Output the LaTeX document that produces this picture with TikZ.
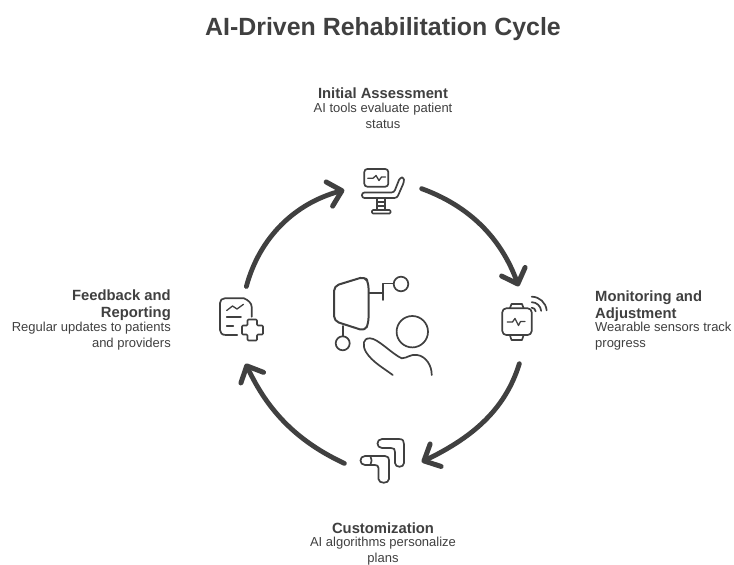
\documentclass[tikz,border=0pt]{standalone}
\usepackage{fontspec}
\setmainfont{Liberation Sans}
\usetikzlibrary{arrows.meta}
\definecolor{ink}{HTML}{404040}
\tikzset{
  hub/.style={circle,minimum size=77pt,inner sep=0pt,draw=none},
  cycle/.style={draw=ink,line width=4.8pt,line cap=round,looseness=0.95,-{Straight Barb[length=13pt,width=25pt,line width=5pt,round]}},
  icon/.style={draw=ink,line width=1.7pt,line cap=round,line join=round},
  headtext/.style={font=\fontsize{14.8}{17}\selectfont\bfseries,text=ink,inner sep=0pt},
  desctext/.style={font=\fontsize{13}{16}\selectfont,text=ink,inner sep=0pt},
}
\begin{document}
\begin{tikzpicture}[x=1pt,y=-1pt]
\useasboundingbox (0,0) rectangle (734,565);
\fill[white] (0,0) rectangle (734,565);
\node[font=\fontsize{24.9}{28}\selectfont\bfseries,text=ink,inner sep=0pt] (title) at (383,29.5) {AI-Driven Rehabilitation Cycle};

\node[hub] (init) at (383,188) {};
\node[hub] (mon) at (520,325) {};
\node[hub] (cust) at (383,462) {};
\node[hub] (feed) at (243,325) {};

\draw[cycle] (feed.85) to[out=75,in=195] (init.183);
\draw[cycle] (init.-1) to[out=-20,in=110] (mon.92);
\draw[cycle] (mon.-91) to[out=-107,in=26] (cust.0);
\draw[cycle] (cust.182) to[out=155,in=-65] (feed.-86);

% chair icon
\draw[icon,rounded corners=3pt] (364.3,169) rectangle (388.3,186.7);
\draw[icon,line width=1.3pt] (367.7,178.3) -- (373,178.3) -- (376,175.5) -- (379,180.5) -- (381.5,177) -- (385.5,177);
\draw[icon,rounded corners=2.5pt] (362,192.5) -- (394,192.5) -- (400,177.5) -- (404,177.5) -- (404,182) -- (397,198) -- (362,198) -- cycle;
\draw[icon] (377,198) -- (377,210) (385,198) -- (385,210);
\draw[icon,line width=1.2pt] (377,202) -- (385,202) (377,206) -- (385,206);
\draw[icon,rounded corners=1pt] (372,210) rectangle (390.5,213.5);

% centre icon
\draw[icon,line width=2pt,rounded corners=5pt] (334,286) -- (365,276.5) -- (368.5,283) -- (368.5,323) -- (365,331) -- (334,321) -- cycle;
\draw[icon] (369.3,292.7) -- (383.3,292.7) (383.3,300) -- (383.3,283.5) -- (393.5,283.5);
\draw[icon] (401,284) circle[radius=7.3pt];
\draw[icon] (342.7,326) -- (342.7,336.3);
\draw[icon] (342.7,343.3) circle[radius=7pt];
\draw[icon] (412.3,331.7) circle[radius=15.7pt];
\draw[icon] (392.7,375) .. controls (385,369) and (372,362) .. (366,352)
  .. controls (362,345) and (363,338) .. (370,338.3)
  .. controls (378,338.5) and (392,354) .. (401.7,358.3)
  .. controls (408,358) and (410,354) .. (417,355)
  .. controls (426,356) and (432,366) .. (431.7,375);

% watch icon
\draw[icon,rounded corners=4pt] (502.3,308.3) rectangle (531.7,335);
\draw[icon] (510,308) -- (511.5,304) -- (522,304) -- (523.5,308);
\draw[icon] (510,335.5) -- (511.5,340) -- (522,340) -- (523.5,335.5);
\draw[icon,line width=1.3pt] (507.3,322) -- (512.5,322) -- (515,318.5) -- (518.5,325.5) -- (520.5,321.5) -- (525,321.5);
\draw[icon] (531.7,307.7) arc[start angle=90,end angle=5,radius=4pt];
\draw[icon] (531.7,302.2) arc[start angle=90,end angle=5,radius=9.5pt];
\draw[icon] (531.7,296.7) arc[start angle=90,end angle=5,radius=15pt];

% customization icon
\draw[icon] (382,439) -- (399,439) .. controls (403,439) and (404,441) .. (404,444) -- (404,463)
  .. controls (404,468) and (395,468) .. (395,463) -- (395,452)
  .. controls (395,449) and (394,448) .. (391,448) -- (382,448)
  .. controls (376,448) and (376,439) .. (382,439) -- cycle;
\draw[icon] (365,456) -- (385,456) .. controls (388,456) and (389,458) .. (389,460) -- (389,479)
  .. controls (389,484) and (378.5,484) .. (378.5,479) -- (378.5,468)
  .. controls (378.5,466) and (377,465) .. (375,465) -- (365,465)
  .. controls (359,465) and (359,456) .. (365,456) -- cycle;
\draw[icon] (370.5,456.5) .. controls (372,459) and (372,462) .. (370.5,464.5);

% report icon
\draw[icon] (237.3,335) -- (226,335) .. controls (222,335) and (220,333) .. (220,330) -- (220,303)
  .. controls (220,300) and (222,298.3) .. (225,298.3) -- (244,298.3)
  .. controls (248,300) and (251.7,303) .. (251.7,307) -- (251.7,316.7);
\draw[icon,line width=1.3pt] (226.7,310.5) -- (232.5,306) -- (237,309) -- (243.5,304.3);
\draw[icon] (226.7,317.3) -- (241,317.3) (226.7,325.7) -- (233.3,325.7);
\draw[icon,rounded corners=1pt] (247.5,319.5) -- (257,319.5) -- (257,325.5) -- (263,325.5) -- (263,334.5) -- (257,334.5) -- (257,340.5) -- (247.5,340.5) -- (247.5,334.5) -- (242,334.5) -- (242,325.5) -- (247.5,325.5) -- cycle;

% labels
\node[headtext,align=center] (h1) at (383,93) {Initial Assessment};
\node[desctext,align=center,anchor=north] (d1) at (383,102.5) {AI tools evaluate patient\\status};
\node[headtext,align=left,anchor=north west] (h2) at (595,290.5) {Monitoring and\\Adjustment};
\node[desctext,align=left,anchor=north west] (d2) at (595,322) {Wearable sensors track\\progress};
\node[headtext,align=center] (h3) at (383,528) {Customization};
\node[desctext,align=center,anchor=north] (d3) at (383,536.5) {AI algorithms personalize\\plans};
\node[headtext,align=right,anchor=north east] (h4) at (171,289.5) {Feedback and\\Reporting};
\node[desctext,align=right,anchor=north east] (d4) at (171,322) {Regular updates to patients\\and providers};
\end{tikzpicture}
\end{document}
